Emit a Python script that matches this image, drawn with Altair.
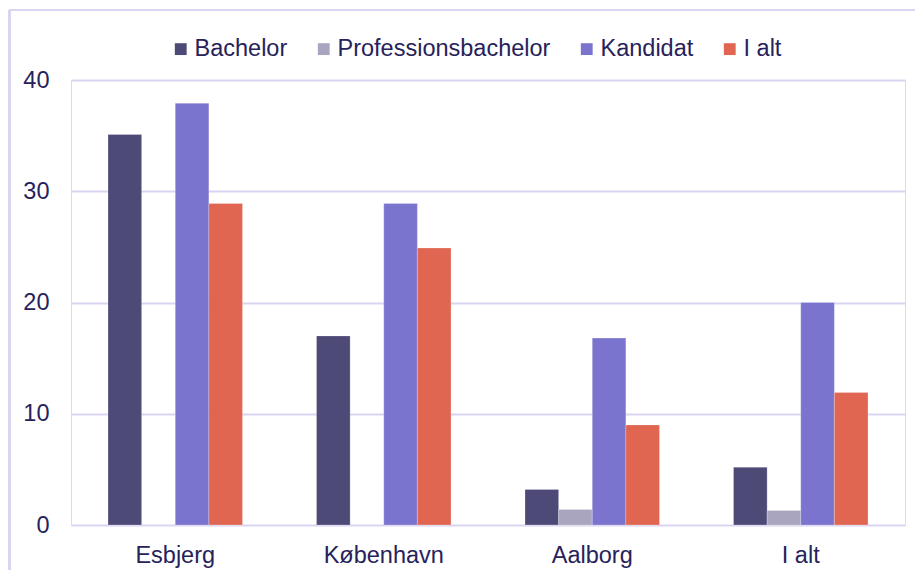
import altair as alt
import pandas as pd

categories = ["Esbjerg", "København", "Aalborg", "I alt"]
series = ["Bachelor", "Professionsbachelor", "Kandidat", "I alt"]
bachelor = [35.1, 17.0, 3.2, 5.2]
professionsbachelor = [None, None, 1.4, 1.3]
kandidat = [37.9, 28.9, 16.8, 20.0]
i_alt = [28.9, 24.9, 9.0, 11.9]
colors = ["#4E4A78", "#A9A5BE", "#7B74CE", "#E06651"]
y_ticks = [0, 10, 20, 30, 40]

rows = []
for s, vals in zip(series, [bachelor, professionsbachelor, kandidat, i_alt]):
    for c, v in zip(categories, vals):
        if v is not None:
            rows.append({"kategori": c, "serie": s, "værdi": v})
df = pd.DataFrame(rows)

TEXT = "#27225A"
GRID = "#D9D5F1"
FONT = "Liberation Sans"
FS = 23.5

bars = alt.Chart(df).mark_bar(stroke="white", strokeWidth=0.4, strokeOpacity=0.6).encode(
    x=alt.X("kategori:N", sort=categories, title=None,
            scale=alt.Scale(paddingInner=0.355, paddingOuter=0.1775),
            axis=alt.Axis(labelAngle=0, ticks=False, domain=False, labelPadding=18,
                          labelFontSize=FS, labelColor=TEXT, labelFont=FONT, labelLimit=0)),
    xOffset=alt.XOffset("serie:N", sort=series, scale=alt.Scale(paddingInner=0, paddingOuter=0)),
    y=alt.Y("værdi:Q", title=None, scale=alt.Scale(domain=[0, 40], nice=False),
            axis=alt.Axis(values=y_ticks, ticks=False, domain=False, labelPadding=22,
                          labelFontSize=FS, labelColor=TEXT, labelFont=FONT,
                          grid=True, gridColor=GRID, gridWidth=2)),
    color=alt.Color("serie:N", sort=series,
                    scale=alt.Scale(domain=series, range=colors),
                    legend=alt.Legend(title=None, orient="none", direction="horizontal",
                                      legendX=98, legendY=-43,
                                      symbolType="square", symbolSize=140,
                                      symbolStrokeWidth=0, labelOffset=2,
                                      columnPadding=24, labelFontSize=FS, labelLimit=0,
                                      labelColor=TEXT, labelFont=FONT)),
)

frame_left = alt.Chart(df).mark_rule(color="#D8D4F2", strokeWidth=1.5).encode(
    x=alt.value(-61.5), y=alt.value(-70), y2=alt.value(600)
)
frame_top = alt.Chart(df).mark_rule(color="#D8D4F2", strokeWidth=1.5).encode(
    x=alt.value(-62), x2=alt.value(900), y=alt.value(-70)
)

chart = alt.layer(bars, frame_left, frame_top).properties(
    width=834, height=445,
    autosize=alt.AutoSizeParams(type="none"),
    padding={"left": 63, "top": 72, "right": 10, "bottom": 45},
).configure_view(stroke=None).configure(background="white")

chart.save("out.html", embed_options={"renderer": "svg", "actions": False})
